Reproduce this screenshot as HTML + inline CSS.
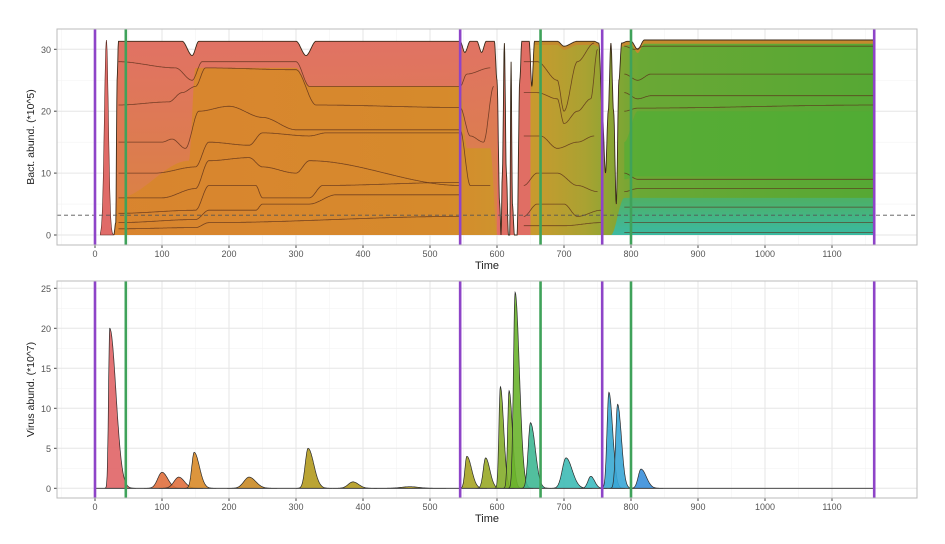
<!DOCTYPE html>
<html><head><meta charset="utf-8"><style>
html,body{margin:0;padding:0;background:#fff;}
svg{display:block;font-family:"Liberation Sans",sans-serif;}
</style></head><body>
<svg id="s" width="945" height="544" viewBox="0 0 945 544" xmlns="http://www.w3.org/2000/svg">
<rect width="945" height="544" fill="#fff"/>
<g id="g"></g>
</svg>
<script>
const NS="http://www.w3.org/2000/svg";
const g=document.getElementById('g');
function el(tag,attrs,txt){const e=document.createElementNS(NS,tag);for(const k in attrs)e.setAttribute(k,attrs[k]);if(txt!==undefined)e.textContent=txt;g.appendChild(e);return e;}
const X=t=>95+0.67*t;
const L=57,R=917;
const P1={top:29,bot:245,y:v=>235-6.19*v};
const P2={top:281,bot:498,y:v=>488.3-8*v};
function panel(P,majors,minors,ylab){
  el('rect',{x:L,y:P.top,width:R-L,height:P.bot-P.top,fill:'#fff'});
  for(const v of minors){el('line',{x1:L,x2:R,y1:P.y(v),y2:P.y(v),stroke:'#f3f3f3','stroke-width':0.6});}
  for(let t=-50;t<=1200;t+=100){el('line',{x1:X(t),x2:X(t),y1:P.top,y2:P.bot,stroke:'#f3f3f3','stroke-width':0.6});}
  for(const v of majors){el('line',{x1:L,x2:R,y1:P.y(v),y2:P.y(v),stroke:'#e6e6e6','stroke-width':1});
    el('line',{x1:L-3,x2:L,y1:P.y(v),y2:P.y(v),stroke:'#444','stroke-width':1});
    el('text',{x:L-6,y:P.y(v)+3.5,'font-size':9,fill:'#555','text-anchor':'end'},v);}
  for(let t=0;t<=1100;t+=100){el('line',{x1:X(t),x2:X(t),y1:P.top,y2:P.bot,stroke:'#e6e6e6','stroke-width':1});
    el('line',{x1:X(t),x2:X(t),y1:P.bot,y2:P.bot+3,stroke:'#444','stroke-width':1});
    el('text',{x:X(t),y:P.bot+12,'font-size':9,fill:'#555','text-anchor':'middle'},t);}
  el('text',{x:487,y:P.bot+24,'font-size':11,fill:'#222','text-anchor':'middle'},'Time');
  const cy=(P.top+P.bot)/2;
  el('text',{x:34,y:cy,'font-size':10.5,fill:'#222','text-anchor':'middle',transform:`rotate(-90 34 ${cy})`},ylab);
}
panel(P1,[0,10,20,30],[5,15,25],'Bact. abund. (*10^5)');
panel(P2,[0,5,10,15,20,25],[2.5,7.5,12.5,17.5,22.5],'Virus abund. (*10^7)');

function interp(pts,t){if(t<=pts[0][0])return pts[0][1];for(let i=1;i<pts.length;i++){if(t<=pts[i][0]){const[a,b]=pts[i-1],[c,d]=pts[i];const u=(t-a)/(c-a);const s=u*u*(3-2*u);return b+(d-b)*s;}}return pts[pts.length-1][1];}
function areaPath(P,t0,t1,fTop,fBot,step=1){let d='';for(let t=t0;t<=t1+1e-9;t+=step)d+=(d?'L':'M')+X(t).toFixed(1)+','+P.y(fTop(t)).toFixed(1);for(let t=t1;t>=t0-1e-9;t-=step)d+='L'+X(t).toFixed(1)+','+P.y(fBot(t)).toFixed(1);return d+'Z';}
const envPts=[[28,0],[31,2],[33,25],[35,31.3],[130,31.3],[145,29],[155,31.3],[300,31.3],[315,29],[330,31.3],[545,31.3],[552,29.5],[560,31.3],[570,31.3],[577,29.5],[584,31.3],[596,31.3],[600,25],[604,5],[606,0],[608,10],[611,31],[614,10],[617,0],[619,0],[621,28],[623,5],[626,0],[630,0],[634,25],[637,31.3],[648,31.3],[652,24],[656,31.3],[690,31.3],[700,30.5],[720,31.3],[745,31.3],[752,31],[757,20],[762,10],[766,20],[770,31],[774,20],[778,5],[782,25],[786,31],[795,31.3],[800,31.3],[810,30],[820,31.5],[1163,31.5]];
const env=t=>Math.max(0,interp(envPts,t));
el('path',{d:areaPath(P1,8,28,t=>31.5*Math.exp(-Math.pow((t-17)/4.2,2)),t=>0,0.5),fill:'#e06b68',stroke:'#5a2a20','stroke-width':0.6});
const defs=document.createElementNS(NS,'defs');document.getElementById('s').insertBefore(defs,g);
defs.innerHTML=`<linearGradient id="gx" x1="${X(0)}" x2="${X(1163)}" y1="0" y2="0" gradientUnits="userSpaceOnUse">
<stop offset="0" stop-color="#d9842f"/><stop offset="0.45" stop-color="#d68a2c"/><stop offset="0.56" stop-color="#c99a2e"/><stop offset="0.63" stop-color="#a9a232"/><stop offset="0.7" stop-color="#6aa835"/><stop offset="1" stop-color="#56a834"/></linearGradient>
<linearGradient id="gr" x1="0" x2="0" y1="${P1.y(31)}" y2="${P1.y(0)}" gradientUnits="userSpaceOnUse"><stop offset="0" stop-color="#e2706a"/><stop offset="1" stop-color="#d98440"/></linearGradient>
<linearGradient id="gt" x1="0" x2="0" y1="${P1.y(6)}" y2="${P1.y(0)}" gradientUnits="userSpaceOnUse"><stop offset="0" stop-color="#4cb06a"/><stop offset="1" stop-color="#36bcae"/></linearGradient>`;
el('path',{d:areaPath(P1,28,1163,env,t=>0,0.5),fill:'url(#gx)'});
const redPts=[[28,0],[35,6],[140,12],[150,27],[300,27],[320,24],[545,24],[555,14],[590,14],[600,0]];
el('path',{d:areaPath(P1,28,604,env,t=>Math.min(env(t),interp(redPts,t)),1),fill:'url(#gr)',opacity:0.9});
el('path',{d:areaPath(P1,600,650,env,t=>0,0.5),fill:'#e06e64'});
el('path',{d:areaPath(P1,650,1163,env,t=>Math.max(0,env(t)-0.6),0.5),fill:'#c48a2e'});
el('path',{d:areaPath(P1,770,1163,t=>t<790?interp([[770,0],[790,6]],t):6,t=>0,1),fill:'url(#gt)',opacity:0.9});
el('path',{d:areaPath(P1,790,1163,t=>interp([[790,15],[810,20],[1163,20]],t),t=>interp([[790,9],[810,9.5],[1163,9.5]],t),1),fill:'#4caf36',opacity:0.6});
const lines=[
 [[35,28],[120,27],[145,25],[160,28],[300,28],[320,24],[545,24],[555,26],[590,27]],
 [[35,21],[110,21.5],[130,23],[150,24],[165,27],[300,26.7],[330,21],[545,20.6],[560,16],[580,15],[595,24]],
 [[35,15],[100,15],[115,15.5],[135,14],[155,20],[200,20.8],[250,19],[300,17],[330,17],[545,17],[560,8],[590,8]],
 [[35,10],[90,10],[150,11],[170,15],[230,14.5],[250,16.5],[320,16],[345,16.5],[545,16.5]],
 [[35,6],[100,6],[150,7.5],[170,12],[230,12.5],[250,11],[300,10],[320,12],[545,8]],
 [[35,3.5],[150,4],[170,8],[240,8],[250,6],[320,6],[340,8],[545,8.5]],
 [[35,2],[150,2.5],[170,4],[240,4],[250,5],[320,5],[360,6.5],[545,6.5]],
 [[35,1],[150,1.2],[170,2],[545,3]],
 [[640,28],[660,28],[690,25],[700,20],[720,28],[745,31]],
 [[640,23],[660,23],[690,22],[700,18],[720,20],[740,22],[750,30]],
 [[640,16],[665,16],[690,14],[720,15],[745,16]],
 [[640,8],[660,10],[690,10],[720,8],[750,7]],
 [[640,3],[660,5],[700,5],[720,3],[755,4]],
 [[640,1.5],[700,1.5],[755,2]],
 [[790,30.5],[805,30],[820,30.5],[1163,30.5]],
 [[790,26],[810,25],[830,26],[1163,26]],
 [[790,23],[810,22],[830,22.5],[1163,22.5]],
 [[790,20],[810,20.5],[1163,21]],
 [[790,10],[810,9],[1163,9]],
 [[790,7],[810,7.5],[1163,7.5]],
 [[790,4.5],[1163,4.5]],
 [[790,2],[1163,2]],
 [[790,0.4],[1163,0.4]]];
for(const p of lines){let d='';for(let t=p[0][0];t<=p[p.length-1][0];t+=1)d+=(d?'L':'M')+X(t).toFixed(1)+','+P1.y(interp(p,t)).toFixed(1);el('path',{d,fill:'none',stroke:'#5b2f1a','stroke-width':0.8,opacity:0.8});}
{let d='';for(let t=28;t<=1163;t+=0.5)d+=(d?'L':'M')+X(t).toFixed(1)+','+P1.y(env(t)).toFixed(1);el('path',{d,fill:'none',stroke:'#3a2a1a','stroke-width':0.9});}
el('line',{x1:L,x2:R,y1:P1.y(3.2),y2:P1.y(3.2),stroke:'#555','stroke-width':0.9,'stroke-dasharray':'4,3'});

const peaks=[[22,20,2.5,13,'#e06466'],[100,2,9,12,'#e0703e'],[125,1.4,10,12,'#e0703e'],[148,4.5,5,11,'#d88a28'],[230,1.4,11,14,'#c98a25'],[318,5,6,12,'#b29a1e'],[385,0.8,10,12,'#b29a1e'],[470,0.2,18,18,'#b29a1e'],
[555,4,4,10,'#a6a422'],[583,3.8,5,9,'#98a826'],[605,12.7,3,7,'#84ad2a'],[618,12.2,3,7,'#7cb12a'],[627,24.5,3.5,9,'#6ab42c'],[650,8.2,5,10,'#3fb893'],[703,3.8,8,13,'#3ebbb5'],[740,1.5,6,8,'#3ebbc0'],[767,12,4,8,'#3aaad2'],[780,10.5,4,8,'#3aa6d6'],[815,2.4,6,11,'#3a8fda']];
for(const[c,h,wl,wr,col]of peaks){const f=t=>h*Math.exp(-Math.pow((t-c)/(t<c?wl:wr),2));
  el('path',{d:areaPath(P2,c-3*wl,c+3*wr,f,t=>0,0.5),fill:col,stroke:'#2a2a2a','stroke-width':0.7,'fill-opacity':0.9});}
el('line',{x1:X(0),x2:X(1163),y1:P2.y(0),y2:P2.y(0),stroke:'#333','stroke-width':0.8});

for(const P of [P1,P2]){
 for(const t of [0,545,757,1163])el('line',{x1:X(t),x2:X(t),y1:P.top,y2:P.bot,stroke:'#8e44c8','stroke-width':2.6});
 for(const t of [46,665,800])el('line',{x1:X(t),x2:X(t),y1:P.top,y2:P.bot,stroke:'#3fa25a','stroke-width':2.6});
 el('rect',{x:L,y:P.top,width:R-L,height:P.bot-P.top,fill:'none',stroke:'#bbb','stroke-width':1});
}
</script>
</body></html>
